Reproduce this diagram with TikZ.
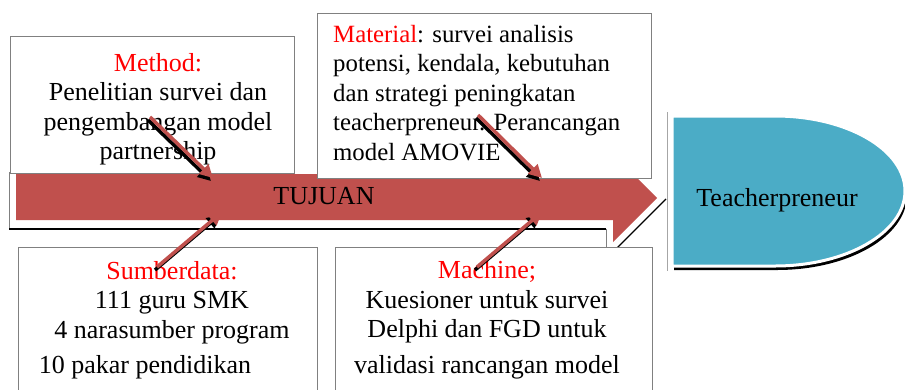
\documentclass[tikz,border=0pt]{standalone}
\usepackage{fontspec}
\setmainfont{Liberation Serif}
\usepackage{xcolor}
\usetikzlibrary{positioning}
\usetikzlibrary{arrows.meta}
\definecolor{arrowred}{HTML}{C0504D}
\definecolor{goalblue}{HTML}{4BACC6}

\begin{document}
\begin{tikzpicture}[
      x=1pt, y=-1pt,
      txt/.style={font=\fontsize{26}{29.5}\selectfont, inner sep=0pt},
      box/.style={draw=gray, fill=white, line width=0.6pt, anchor=north west},
      redarrow/.style={-{Triangle[length=13pt,width=13pt]}, line width=3.5pt, arrowred},
      shadarrow/.style={redarrow, black}
      ]
      \clip (0,0) rectangle (905,389);
      \useasboundingbox (0,0) rectangle (905,389);

      % big arrow
      \fill[white] (9,172) -- (9,229) -- (606,229) -- (606,259) -- (666,199) -- (606,139) -- (606,172) -- cycle;
      \draw[gray, line width=0.6pt] (9,172) -- (9,229);
      \draw[black, line width=1.4pt] (9,229) -- (606,229);
      \draw[gray, line width=0.6pt] (606,229) -- (606,250);
      \draw[black, line width=1.2pt] (606,259) -- (666,199);
      \fill[arrowred] (16,174) -- (613,174) -- (613,154) -- (657,198)
        -- (613,242) -- (613,220) -- (16,220) -- cycle;
      \node[txt] (tujuan) at (324,196) {TUJUAN};

      % goal
      \draw[gray!70, line width=0.6pt] (667,112) -- (667,271);
      \begin{scope}[shift={(2,4)}]
        \fill[black] (672,116) -- (775,116)
          arc[start angle=90, end angle=-90, x radius=130pt, y radius=75pt] -- (672,266) -- cycle;
      \end{scope}
      \filldraw[fill=goalblue, draw=white, line width=3pt] (672,116) -- (775,116)
        arc[start angle=90, end angle=-90, x radius=130pt, y radius=75pt] -- (672,266) -- cycle;
      \node[txt] (goal) at (777,200) {Teacherpreneur};

      % boxes
      \node[box, minimum width=284, minimum height=137] (methodbox) at (10,36) {};
      \node[box, minimum width=334, minimum height=165] (materialbox) at (317,13) {};
      \node[box, minimum width=299, minimum height=160] (sumberbox) at (18,247) {};
      \node[box, minimum width=317, minimum height=160] (machinebox) at (335,247) {};

      \node[txt, align=center] (methodtxt) at (158,109)
        {\textcolor{red}{Method:}\\Penelitian survei dan\\pengembangan model\\partnership};
      \node[txt, font=\fontsize{24.8}{29.5}\selectfont, align=left, anchor=west] (materialtxt) at (333,93)
        {\textcolor{red}{Material}: survei analisis\\potensi, kendala, kebutuhan\\dan strategi peningkatan\\teacherpreneur. Perancangan\\model AMOVIE};
      \node[txt, align=center] (sumbertxt) at (172,320)
        {\textcolor{red}{Sumberdata:}\\111 guru SMK\\4 narasumber program\\[6pt]10 pakar pendidikan\hspace*{54pt}};
      \node[txt, align=center] (machinetxt) at (487,320)
        {\textcolor{red}{Machine;}\\Kuesioner untuk survei\\Delphi dan FGD untuk\\[6pt]validasi rancangan model};

      % small arrows
      \coordinate (mfrom) at (150,117);
      \coordinate (mto) at (213,178);
      \coordinate (tfrom) at (478,115);
      \coordinate (tto) at (542,178);
      \coordinate (sfrom) at (157,267);
      \coordinate (sto) at (222,212);
      \coordinate (cfrom) at (477,267);
      \coordinate (cto) at (542,212);

      \begin{scope}[transform canvas={shift={(-2pt,-3pt)}}]
        \path (mfrom) edge[shadarrow] (mto)
        (tfrom) edge[shadarrow] (tto)
        (sfrom) edge[shadarrow] (sto)
        (cfrom) edge[shadarrow] (cto)
        ;
      \end{scope}
      \path (mfrom) edge[redarrow] (mto)
      (tfrom) edge[redarrow] (tto)
      (sfrom) edge[redarrow] (sto)
      (cfrom) edge[redarrow] (cto)
      ;

    \end{tikzpicture}
\end{document}
